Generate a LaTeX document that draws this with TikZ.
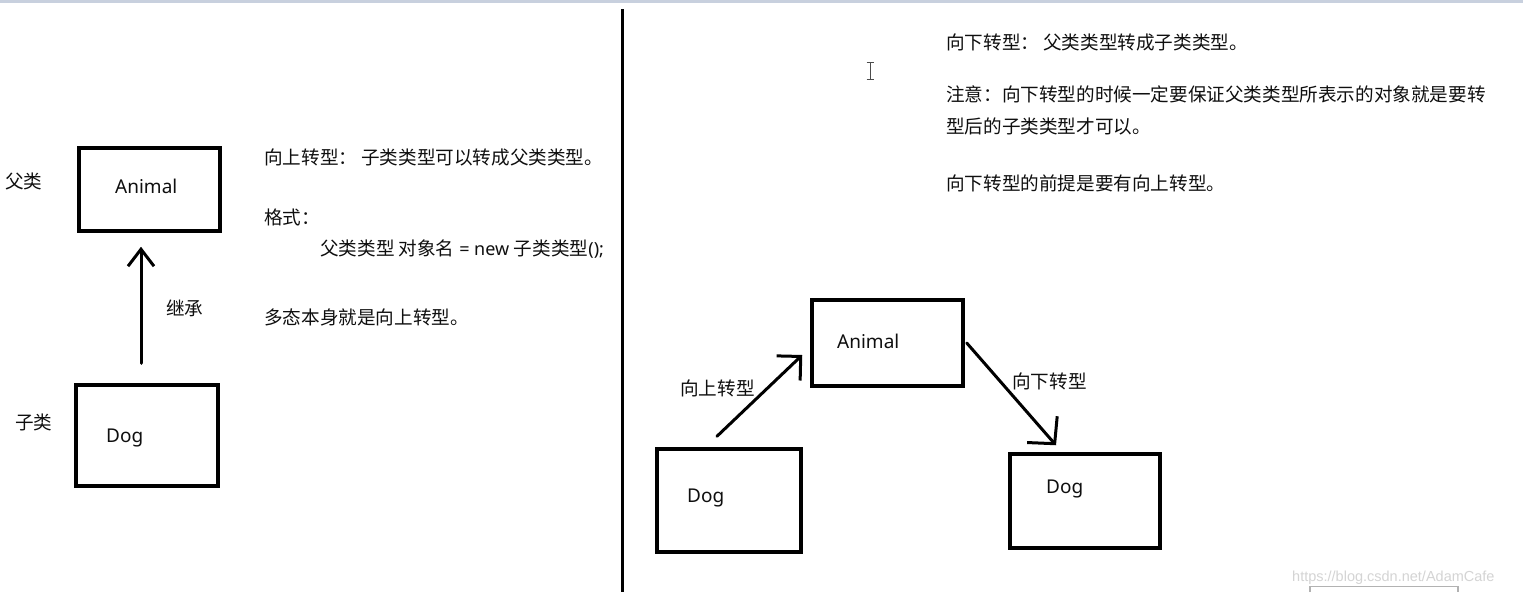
\documentclass[tikz,border=0pt]{standalone}
\usepackage{fontspec}
\setmainfont{Noto Sans CJK SC}
\newfontfamily\latinf{Noto Sans}
\newfontfamily\wmfont{Liberation Sans}
\usetikzlibrary{arrows.meta}
\definecolor{topband}{RGB}{200,208,222}
\definecolor{txt}{RGB}{15,15,15}
\definecolor{wm}{RGB}{212,212,212}
\begin{document}
\begin{tikzpicture}[x=1pt,y=-1pt,
  box/.style={draw=black,line width=3.5pt,inner sep=0pt},
  cn/.style={anchor=base west,inner sep=0pt,text=txt,font=\fontsize{18.6}{22}\selectfont},
  en/.style={anchor=base west,inner sep=0pt,text=txt,font=\latinf\fontsize{19}{23}\selectfont},
  conn/.style={line width=3pt,line cap=round,line join=round}
]
\useasboundingbox (0,0) rectangle (1523,592);
\fill[white] (0,0) rectangle (1523,592);
% top band and divider
\fill[topband] (0,0) rectangle (1523,2.5);
\draw[line width=3pt] (622,9) -- (622,592);

% ---------- left panel ----------
\node[box,minimum width=141pt,minimum height=83pt] (animalL) at (149.5,189.5) {};
\node[box,minimum width=142pt,minimum height=101pt] (dogL) at (147,435.5) {};
\node[en] (animalLt) at (115,193) {Animal};
\node[en] (dogLt) at (106,442) {Dog};
\node[cn] (fuL) at (5,188) {父类};
\node[cn] (ziL) at (15,429) {子类};
\node[cn] (jicheng) at (166,315) {继承};
\draw[conn,-{Straight Barb[length=17pt,width=26pt]}]
  ([shift={(-6,-20)}]dogL.north) -- ([shift={(-8.5,14)}]animalL.south);

\node[cn] (t1) at (264,164.5) {向上转型： 子类类型可以转成父类类型。};
\node[cn] (t2) at (264,224) {格式：};
\node[cn] (t3) at (320,255) {父类类型 对象名{\latinf\fontsize{18}{22}\selectfont{} = new }子类类型{\latinf\fontsize{18}{22}\selectfont();}};
\node[cn] (t4) at (264,324) {多态本身就是向上转型。};

% ---------- right panel ----------
\node[cn] (r1) at (946,49.5) {向下转型： 父类类型转成子类类型。};
\node[cn] (r2) at (946,101) {注意：向下转型的时候一定要保证父类类型所表示的对象就是要转};
\node[cn] (r3) at (946,133) {型后的子类类型才可以。};
\node[cn] (r4) at (946,190) {向下转型的前提是要有向上转型。};

% text cursor
\draw[black!70,line width=1pt] (870,62) -- (870,79) (866.5,62) -- (873.5,62) (866.5,79) -- (873.5,79);

\node[box,minimum width=151pt,minimum height=86pt] (animalR) at (887.5,343) {};
\node[box,minimum width=144pt,minimum height=103pt] (dogR1) at (729,500.5) {};
\node[box,minimum width=150pt,minimum height=94pt] (dogR2) at (1085,501) {};
\node[en] (animalRt) at (837,348) {Animal};
\node[en] (dogR1t) at (687,502) {Dog};
\node[en] (dogR2t) at (1046,493) {Dog};
\node[cn] (upR) at (680,395) {向上转型};
\node[cn] (downR) at (1012,388) {向下转型};
\draw[conn,-{Straight Barb[length=17pt,width=34pt]}]
  ([shift={(-12,-11)}]dogR1.north) -- ([shift={(-8,12)}]animalR.west);
\draw[conn,-{Straight Barb[length=19pt,width=40pt]}]
  ([shift={(2,0)}]animalR.east) -- ([shift={(-29,-7)}]dogR2.north);

% watermark
\node[anchor=base west,inner sep=0pt,text=wm,font=\wmfont\fontsize{14.5}{16}\selectfont] (wmark) at (1292,581) {https://blog.csdn.net/AdamCafe};
\draw[black!30,line width=1.2pt] (1310,592) -- (1310,586.5) -- (1458,586.5) -- (1458,592);
\end{tikzpicture}
\end{document}
